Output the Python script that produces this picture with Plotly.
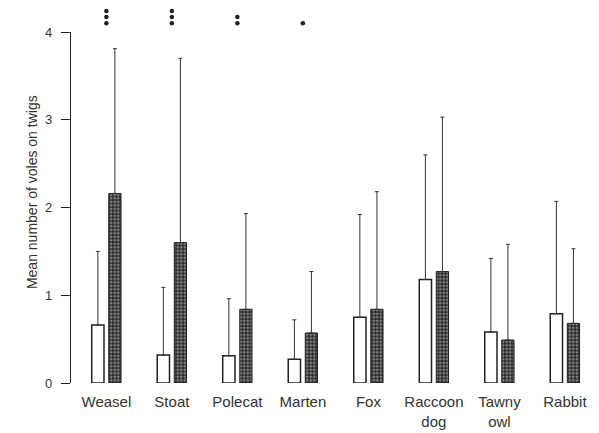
import plotly.graph_objects as go

categories = ["Weasel", "Stoat", "Polecat", "Marten", "Fox", "Raccoon<br>dog", "Tawny<br>owl", "Rabbit"]
open_means = [0.66, 0.32, 0.31, 0.27, 0.75, 1.18, 0.58, 0.79]
open_tops = [1.50, 1.09, 0.96, 0.72, 1.92, 2.60, 1.42, 2.07]
hatched_means = [2.16, 1.60, 0.84, 0.57, 0.84, 1.27, 0.49, 0.68]
hatched_tops = [3.81, 3.70, 1.93, 1.27, 2.18, 3.03, 1.58, 1.53]
sig_counts = [3, 3, 2, 1, 0, 0, 0, 0]
dot_levels = [4.10, 4.17, 4.24]
y_ticks = [0, 1, 2, 3, 4]

open_err = [t - m for t, m in zip(open_tops, open_means)]
hatched_err = [t - m for t, m in zip(hatched_tops, hatched_means)]

dot_x, dot_y = [], []
for c, n in zip(categories, sig_counts):
    for k in range(n):
        dot_x.append(c)
        dot_y.append(dot_levels[k])

fig = go.Figure()
fig.add_trace(go.Bar(
    x=categories, y=open_means, name="open",
    marker=dict(color="white", line=dict(color="#222", width=1.5)),
    error_y=dict(type="data", symmetric=False, array=open_err,
                 arrayminus=[0] * len(open_err), color="#333", thickness=1, width=2),
))
fig.add_trace(go.Bar(
    x=categories, y=hatched_means, name="hatched",
    marker=dict(color="#2b2b2b", line=dict(color="#222", width=1),
                pattern=dict(shape=".", bgcolor="#2b2b2b", fgcolor="#dddddd",
                             size=3.5, solidity=0.45)),
    error_y=dict(type="data", symmetric=False, array=hatched_err,
                 arrayminus=[0] * len(hatched_err), color="#333", thickness=1, width=2),
))
fig.add_trace(go.Scatter(
    x=dot_x, y=dot_y, mode="markers", yaxis="y2",
    marker=dict(size=4.5, color="#222"), showlegend=False,
))

# main axis occupies pixels 32..383 of a 0..383 plot area; y2 spans the full height
main_top = 351 / 383
fig.update_layout(
    width=599, height=433,
    margin=dict(l=71, r=2, t=0, b=50, autoexpand=False),
    paper_bgcolor="white", plot_bgcolor="rgba(0,0,0,0)",
    barmode="group", bargap=0.48, bargroupgap=0.28,
    showlegend=False,
    font=dict(family="Liberation Sans, Arial, sans-serif", color="#333"),
    xaxis=dict(type="category", range=[-0.54, 7.49], showline=False, showgrid=False,
               zeroline=False, ticks="", tickfont=dict(size=15, color="#333"),
               ticklabelstandoff=8, automargin=False),
    yaxis=dict(range=[0, 4], domain=[0, main_top], tickvals=y_ticks, showline=True,
               linecolor="#222", linewidth=1.2, ticks="outside", ticklen=9,
               tickcolor="#222", showgrid=False, zeroline=False,
               tickfont=dict(size=13, color="#333"), ticklabelstandoff=6,
               automargin=False),
    yaxis2=dict(range=[0, 4 / main_top], domain=[0, 1], anchor="x", visible=False,
                showgrid=False, zeroline=False, automargin=False),
    annotations=[dict(text="Mean number of voles on twigs", xref="paper", yref="paper",
                      x=-0.093, y=(383 - 192) / 383, textangle=-90, showarrow=False,
                      font=dict(size=14, color="#333"))],
)

fig.write_html("out.html")
